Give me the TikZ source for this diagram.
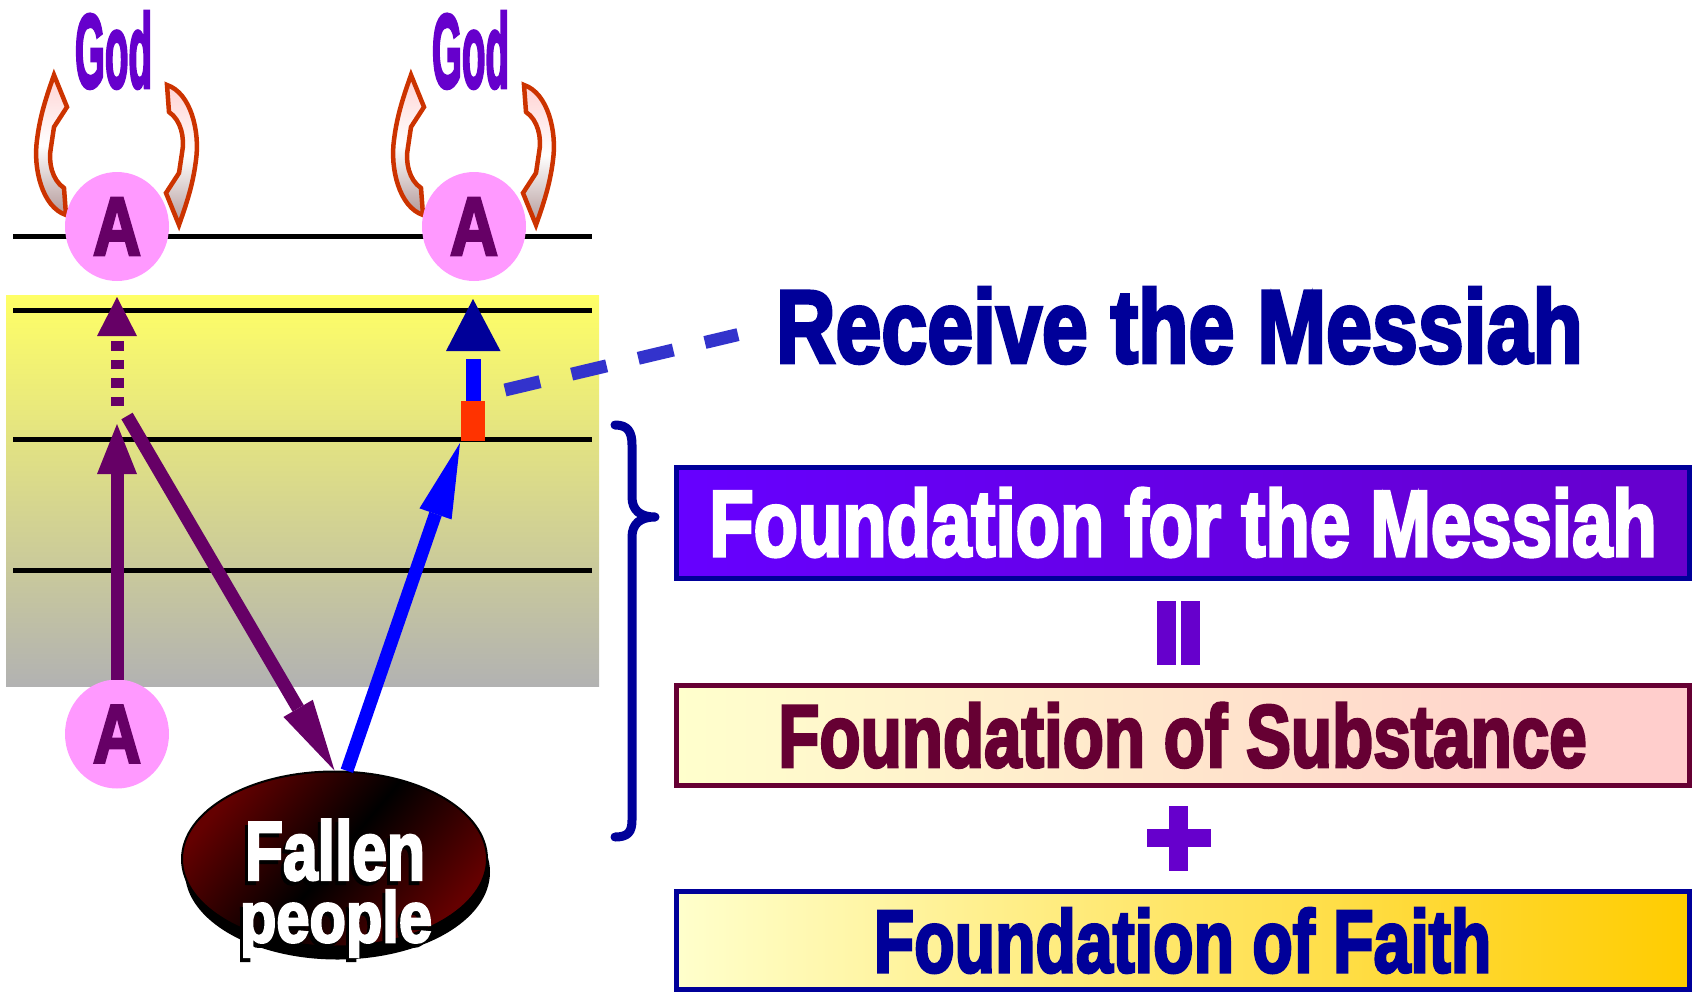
\documentclass[tikz,border=0pt]{standalone}
\usepackage{graphicx}
\usepackage{fontspec}
\usetikzlibrary{arrows.meta,shapes.geometric,shadows,calc}
\newfontfamily\impact{Liberation Sans}[UprightFont=* Bold, FakeBold=3.5]
\definecolor{navy}{HTML}{000099}
\definecolor{godc}{HTML}{6600CC}
\definecolor{plum}{HTML}{660066}
\definecolor{pinkA}{HTML}{FF99FF}
\definecolor{maroonc}{HTML}{660033}
\definecolor{dashc}{HTML}{3333CC}
\definecolor{orng}{HTML}{FF3300}
\definecolor{pureblue}{HTML}{0000FF}
\definecolor{arrowline}{HTML}{CC3300}
\definecolor{pinkhi}{RGB}{255,210,210}
\definecolor{greyhi}{RGB}{178,152,152}
\definecolor{ylw}{RGB}{255,255,102}
\definecolor{gry}{RGB}{178,178,178}
\definecolor{dred}{RGB}{100,0,0}
\definecolor{vio1}{HTML}{6600FF}
\definecolor{vio2}{HTML}{6600CC}
\definecolor{creamc}{HTML}{FFFFCC}
\definecolor{rosec}{HTML}{FFCCCC}
\definecolor{goldc}{HTML}{FFCC00}
\newcommand\fitt[3]{\resizebox{#1pt}{#2pt}{\impact #3}}
\begin{document}
\begin{tikzpicture}[x=1pt,y=-1pt,
  txt/.style={inner sep=0pt,outer sep=0pt},
  circA/.style={ellipse,fill=pinkA,text=plum,minimum width=104pt,minimum height=109pt,inner sep=0pt,outer sep=0pt},
  level/.style={line width=5pt,draw=black},
  godarrow/.style={draw=arrowline,line width=4.5pt,line join=miter,top color=pinkhi,bottom color=greyhi,middle color=white},
  plumarrow/.style={draw=plum,line width=13pt,line cap=butt},
  bluearrow/.style={draw=pureblue,line width=13pt,line cap=butt},
  fbox/.style={line width=5pt,inner sep=0pt,minimum width=1013pt},
]
\useasboundingbox (0,0) rectangle (1694,993);

% yellow panel and level lines
\shade[top color=ylw,bottom color=gry] (6,295) rectangle (599,686);
\foreach \yy in {236.5,310.5,439.5,570} \draw[level] (13,\yy) -- (592,\yy);

% curved arrows around God
\foreach \dx in {0,357} {
  \begin{scope}[xshift=\dx]
    \path[godarrow] (66,215) .. controls (42,207) and (33,168) .. (37,140)
      .. controls (40,115) and (47,95) .. (54,75) -- (67,107) -- (54,127) -- (51,147)
      .. controls (48,162) and (52,180) .. (64,188) -- cycle;
    \path[godarrow,rotate around={180:(116.5,150)}] (66,215) .. controls (42,207) and (33,168) .. (37,140)
      .. controls (40,115) and (47,95) .. (54,75) -- (67,107) -- (54,127) -- (51,147)
      .. controls (48,162) and (52,180) .. (64,188) -- cycle;
  \end{scope}
}

% God labels
\node[txt,text=godc] (god1) at (113.5,50) {\fitt{77}{76}{God}};
\node[txt,text=godc] (god2) at (470.5,50) {\fitt{77}{76}{God}};

% A circles
\node[circA] (A1) at (117,226.5) {\fitt{48}{57}{A}};
\node[circA] (A2) at (474,226.5) {\fitt{48}{57}{A}};
\node[circA] (A3) at (117,734) {\fitt{48}{57}{A}};

% Fallen people
\node[ellipse,minimum width=305pt,minimum height=175pt,inner sep=0pt,draw=black,line width=2pt,
      left color=dred,right color=dred,middle color=black,shading angle=50,
      drop shadow={shadow xshift=3pt,shadow yshift=-13pt,opacity=1,fill=black}] (fallen) at (334.5,859) {};
\node[txt,text=black] at (332,854) {\fitt{180}{60}{Fallen}};
\node[txt,text=white] (fal) at (335,850) {\fitt{180}{60}{Fallen}};
\node[txt,text=black,anchor=north] at (333,894) {\fitt{192}{52}{people}};
\node[txt,text=white,anchor=north] (peo) at (336,890) {\fitt{192}{52}{people}};

% left column arrows
\coordinate (v1) at (117,424);
\coordinate (v2) at (117,406);
\coordinate (v3) at (117,297);
\coordinate (d0) at (127,416);
\coordinate (b1) at (460,443);
\draw[plumarrow,-{Triangle[length=50pt,width=40pt,line width=0pt]}] (A3.north) -- (v1);
\draw[plumarrow,dash pattern=on 9.5pt off 9pt,-{Triangle[length=39pt,width=40pt,line width=0pt]}] (v2) -- (v3);
\draw[plumarrow,-{Triangle[length=72pt,width=34pt,line width=0pt]}] (d0) -- (fallen.north);
\draw[bluearrow,-{Triangle[length=75pt,width=34pt,line width=0pt]}] (fallen.82) -- (b1);

% right column: stacked marker
\fill[orng] (461,401) rectangle (485,441);
\fill[pureblue] (466,359) rectangle (481,401);
\fill[navy] (473,299) -- (500.5,351) -- (446,351) -- cycle;

% Receive the Messiah
\node[txt,text=navy] (recv) at (1179.5,325.5) {\fitt{807}{75}{Receive the Messiah}};
\coordinate (dash0) at (505,390);
\coordinate (dash1) at (738,334.6);
\draw[dashc,line width=13pt,dash pattern=on 36pt off 32.5pt] (dash0) -- (dash1);

% brace
\draw[navy,line width=9pt,line cap=round,line join=round]
  (615,425) .. controls (628,425) and (632,432) .. (632,445) -- (632,497)
  .. controls (632,510) and (640,517) .. (655,517)
  .. controls (640,517) and (632,524) .. (632,537) -- (632,820)
  .. controls (632,832) and (628,837) .. (615,837);

% foundation boxes
\node[fbox,draw=navy,left color=vio1,right color=vio2,minimum height=111pt,text=white] (fm) at (1183,522.5) {\fitt{947}{68}{Foundation for the Messiah}};
\node[fbox,draw=maroonc,left color=creamc,right color=rosec,minimum height=100.5pt,text=maroonc] (fs) at (1182.5,735.25) {\fitt{808}{64}{Foundation of Substance}};
\node[fbox,draw=navy,left color=creamc,right color=goldc,minimum height=98pt,text=navy] (ff) at (1182.5,940.5) {\fitt{617}{64}{Foundation of Faith}};

% equals (vertical) and plus
\fill[godc] (1157.3,600.7) rectangle (1176.3,665);
\fill[godc] (1181.3,600.7) rectangle (1200.3,665);
\fill[godc] (1169.3,806) rectangle (1188.3,870.7);
\fill[godc] (1147,829) rectangle (1211,847.3);
\end{tikzpicture}
\end{document}
